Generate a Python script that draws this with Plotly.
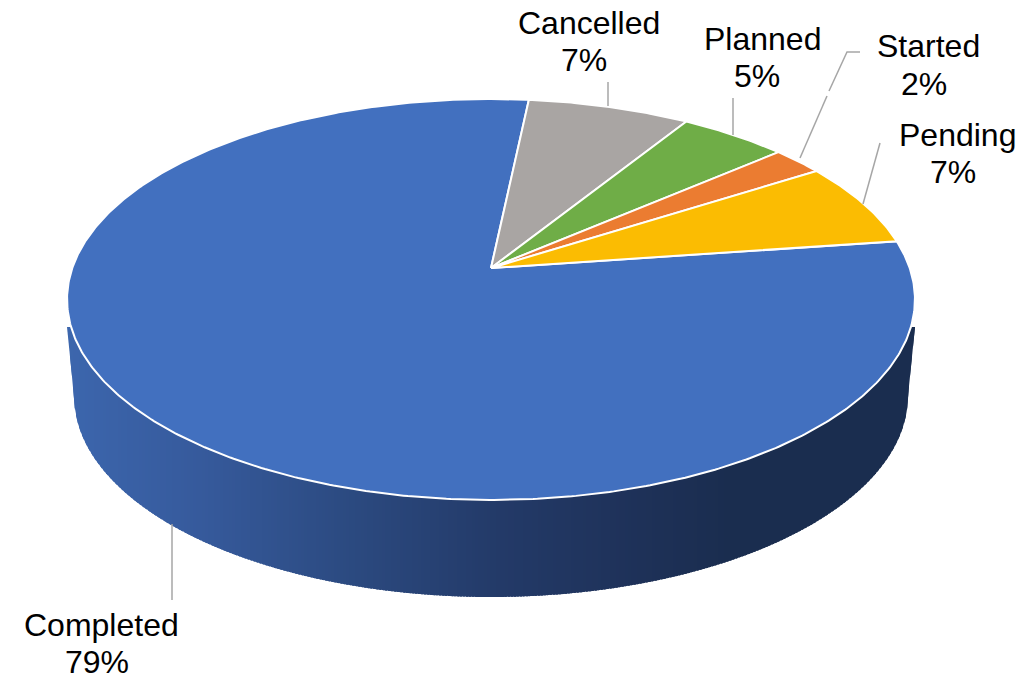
import numpy as np
import plotly.graph_objects as go

# ---- data ----
labels = ["Completed", "Cancelled", "Planned", "Started", "Pending"]
values = [78.9, 7.2, 4.8, 2.3, 6.8]
colors = ["#4270BF", "#A9A5A3", "#6FAD47", "#EB7C31", "#FBBC02"]

# ---- label placement (pixel centres of the two text lines) ----
name_xy = [(101, 625), (589, 23), (762, 39), (928, 46), (957, 135)]
pct_xy = [(97, 662), (584, 60), (757, 76), (924, 84), (953, 172)]
leaders = [
    ([172, 172], [524, 600]),
    ([608, 608], [82, 106]),
    ([733, 733], [98, 135]),
    ([860, 847, 829, None, 827, 800], [52, 52, 91, None, 96, 158]),
    ([880, 863], [143, 204]),
]

# ---- pie geometry: perspective view of a disc ----
CX, CY = 491.0, 268.0
A, B, K = 418.7, 153.45, 0.157
START_DEG = 6.0 - 78.9 / 100 * 360

# bottom face outline
BX, BY, BA, BB = 491.0, 396.0, 417.0, 201.0
SIDE_TOP = 327.0
LEFT_EDGE, RIGHT_EDGE = 67.0, 915.0
stop_x = [67, 200, 340, 500, 640, 730, 915]
stop_rgb = [(0x3C, 0x66, 0xAD), (0x36, 0x5A, 0x9C), (0x2C, 0x4B, 0x82),
            (0x23, 0x3A, 0x68), (0x1E, 0x31, 0x58), (0x1A, 0x2D, 0x4F), (0x1A, 0x2D, 0x4F)]


def project(theta_deg):
    t = np.radians(theta_deg)
    X, Y = np.sin(t), np.cos(t)
    d = 1 + K * Y
    return CX + A * X / d, (CY - B * Y) / d


def bottom_y(x):
    xl, xr = BX - BA, BX + BA
    if x < xl:
        return SIDE_TOP + (x - LEFT_EDGE) / (xl - LEFT_EDGE) * (BY - SIDE_TOP)
    if x > xr:
        return SIDE_TOP + (RIGHT_EDGE - x) / (RIGHT_EDGE - xr) * (BY - SIDE_TOP)
    return BY + BB * np.sqrt(max(0.0, 1 - ((x - BX) / BA) ** 2))


def side_colour(x):
    c = [np.interp(x, stop_x, [s[i] for s in stop_rgb]) for i in range(3)]
    return "rgb(%d,%d,%d)" % tuple(int(round(v)) for v in c)


fig = go.Figure()

# extruded side: overlapping strips painted left to right, so no seams show
step = 3.0
edges = list(np.arange(LEFT_EDGE, RIGHT_EDGE, step)) + [RIGHT_EDGE]
for x0, x1 in zip(edges[:-1], edges[1:]):
    xm = (x0 + x1) / 2
    x2 = min(x1 + 2.0, RIGHT_EDGE)
    top = SIDE_TOP if (xm < 72 or xm > 910) else 300.0
    samples = np.linspace(x0, x2, 4)
    ys = [bottom_y(v) for v in samples]
    fig.add_trace(go.Scatter(
        x=[x0] + list(samples) + [x2, x0],
        y=[top] + ys + [top, top],
        mode="lines", fill="toself", fillcolor=side_colour(xm),
        line=dict(width=0), hoverinfo="skip", showlegend=False))

# top face slices
total = sum(values)
angle = START_DEG
for lab, val, col in zip(labels, values, colors):
    span = val / total * 360
    th = np.linspace(angle, angle + span, max(8, int(span * 2)))
    px, py = project(th)
    fig.add_trace(go.Scatter(
        x=[CX] + list(px) + [CX], y=[CY] + list(py) + [CY],
        mode="lines", fill="toself", fillcolor=col,
        line=dict(color="white", width=2), name=lab, hoverinfo="skip",
        showlegend=False))
    angle += span

# leader lines
for lx, ly in leaders:
    fig.add_trace(go.Scatter(x=lx, y=ly, mode="lines",
                             line=dict(color="#A6A6A6", width=1.5),
                             hoverinfo="skip", showlegend=False))

FONT = dict(family="Liberation Sans, Arial, sans-serif", size=32, color="black")
for lab, val, (nx, ny), (px_, py_) in zip(labels, values, name_xy, pct_xy):
    fig.add_annotation(x=nx, y=ny, text=lab, showarrow=False, font=FONT,
                       xanchor="center", yanchor="middle")
    fig.add_annotation(x=px_, y=py_, text=f"{val / total * 100:.0f}%", showarrow=False,
                       font=FONT, xanchor="center", yanchor="middle")

fig.update_layout(
    width=1033, height=676, margin=dict(l=0, r=0, t=0, b=0),
    paper_bgcolor="white", plot_bgcolor="white",
    xaxis=dict(range=[0, 1033], visible=False, fixedrange=True),
    yaxis=dict(range=[676, 0], visible=False, fixedrange=True),
    showlegend=False,
)
fig.write_html("out.html", config={"displayModeBar": False},
               post_script="document.body.style.margin='0';")
